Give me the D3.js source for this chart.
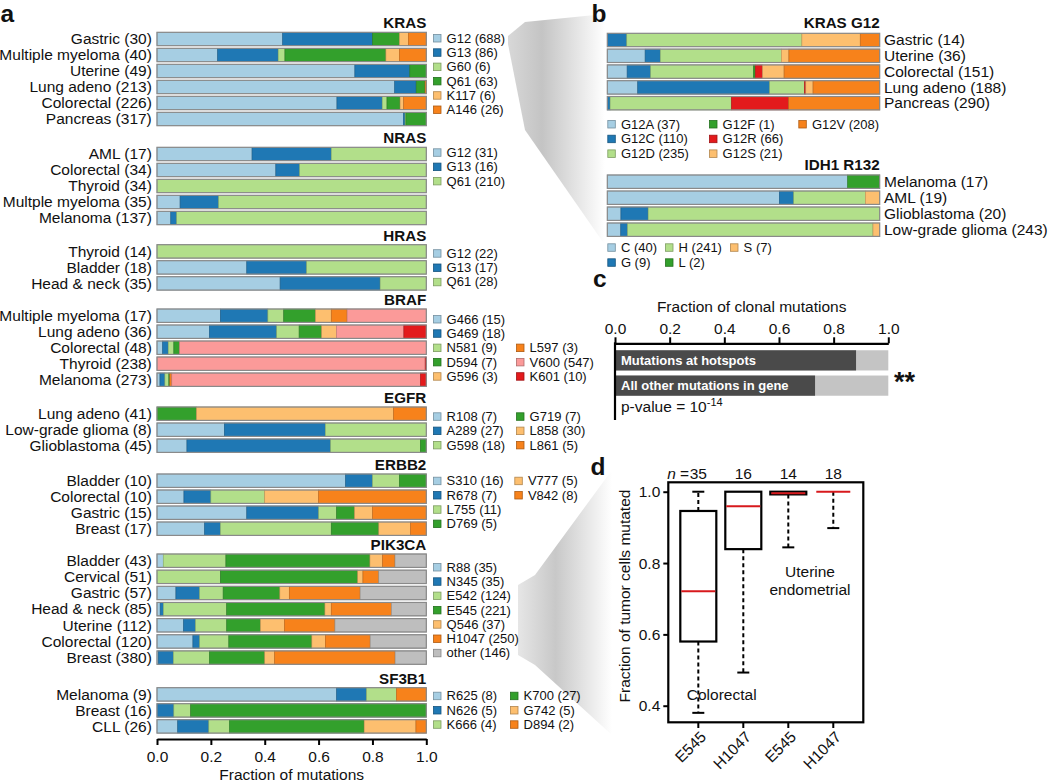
<!DOCTYPE html>
<html><head><meta charset="utf-8">
<script src="https://cdn.jsdelivr.net/npm/d3@7"></script>
<style>body{margin:0;background:#fff} svg{font-family:"Liberation Sans",Arial,Helvetica,sans-serif}</style>
</head><body><svg id="chart" width="1050" height="781"></svg>
<script>
// ---------------- DATA ----------------
const krasCats = ["Gastric (30)","Multiple myeloma (40)","Uterine (49)","Lung adeno (213)","Colorectal (226)","Pancreas (317)"];
const krasMuts = ["G12 (688)","G13 (86)","G60 (6)","Q61 (63)","K117 (6)","A146 (26)"];
const krasCounts = [[14,10,0,3,1,2],[9,9,1,15,2,4],[36,10,0,3,0,0],[188,17,0,7,0,1],[151,38,4,11,3,19],[290,2,1,24,0,0]];

const nrasCats = ["AML (17)","Colorectal (34)","Thyroid (34)","Multple myeloma (35)","Melanoma (137)"];
const nrasMuts = ["G12 (31)","G13 (16)","Q61 (210)"];
const nrasCounts = [[6,5,6],[15,3,16],[0,0,34],[3,5,27],[7,3,127]];

const hrasCats = ["Thyroid (14)","Bladder (18)","Head & neck (35)"];
const hrasMuts = ["G12 (22)","G13 (17)","Q61 (28)"];
const hrasCounts = [[0,0,14],[6,4,8],[16,13,6]];

const brafCats = ["Multiple myeloma (17)","Lung adeno (36)","Colorectal (48)","Thyroid (238)","Melanoma (273)"];
const brafMuts = ["G466 (15)","G469 (18)","N581 (9)","D594 (7)","G596 (3)","L597 (3)","V600 (547)","K601 (10)"];
const brafCounts = [[4,3,1,2,1,1,5,0],[7,9,3,3,2,0,9,3],[1,1,1,1,0,0,44,0],[0,0,0,0,0,0,237,1],[3,5,4,1,0,2,252,6]];

const egfrCats = ["Lung adeno (41)","Low-grade glioma (8)","Glioblastoma (45)"];
const egfrMuts = ["R108 (7)","A289 (27)","G598 (18)","G719 (7)","L858 (30)","L861 (5)"];
const egfrCounts = [[0,0,0,6,30,5],[2,3,3,0,0,0],[5,24,15,1,0,0]];

const erbb2Cats = ["Bladder (10)","Colorectal (10)","Gastric (15)","Breast (17)"];
const erbb2Muts = ["S310 (16)","R678 (7)","L755 (11)","D769 (5)","V777 (5)","V842 (8)"];
const erbb2Counts = [[7,1,1,1,0,0],[1,1,2,0,2,4],[5,4,1,1,1,3],[3,1,7,3,2,1]];

const pik3caCats = ["Bladder (43)","Cervical (51)","Gastric (57)","Head & neck (85)","Uterine (112)","Colorectal (120)","Breast (380)"];
const pik3caMuts = ["R88 (35)","N345 (35)","E542 (124)","E545 (221)","Q546 (37)","H1047 (250)","other (146)"];
const pik3caCounts = [[1,0,10,23,2,2,5],[0,0,12,26,1,3,9],[4,5,5,12,2,15,14],[1,1,20,31,2,19,11],[11,5,13,14,10,21,38],[16,3,13,37,6,20,25],[2,21,51,78,14,170,44]];

const sf3b1Cats = ["Melanoma (9)","Breast (16)","CLL (26)"];
const sf3b1Muts = ["R625 (8)","N626 (5)","K666 (4)","K700 (27)","G742 (5)","D894 (2)"];
const sf3b1Counts = [[6,1,1,0,0,1],[0,1,1,14,0,0],[2,3,2,13,5,1]];

const g12Cats = ["Gastric (14)","Uterine (36)","Colorectal (151)","Lung adeno (188)","Pancreas (290)"];
const g12Muts = ["G12A (37)","G12C (110)","G12D (235)","G12F (1)","G12R (66)","G12S (21)","G12V (208)"];
const g12Counts = [[0,1,9,0,0,3,1],[5,2,16,0,0,1,12],[11,13,57,1,4,12,53],[21,91,24,0,1,5,46],[0,3,129,0,61,0,97]];

const idhCats = ["Melanoma (17)","AML (19)","Glioblastoma (20)","Low-grade glioma (243)"];
const idhMuts = ["C (40)","G (9)","H (241)","L (2)","S (7)"];
const idhCounts = [[15,0,0,2,0],[12,1,5,0,1],[1,2,17,0,0],[12,6,219,0,6]];

const clonalCats = ["Mutations at hotspots","All other mutations in gene"];
const clonalFrac = [0.882, 0.732];

const boxGroups = ["cE545","cH1047","uE545","uH1047"];
const boxLabels = ["E545","H1047","E545","H1047"];
const boxN = ["35","16","14","18"];
const boxMin = [0.38,0.493,0.844,0.898];
const boxQ1 = [0.58,0.839,0.9925,1.0];
const boxMed = [0.721,0.959,0.996,1.0];
const boxQ3 = [0.946,1.0,1.0,1.0];
const boxMax = [1.0,1.0,1.0,1.0];

const fracTicks = [0,0.2,0.4,0.6,0.8,1.0];
const boxTicks = [0.4,0.6,0.8,1.0];

// ---------------- STYLE ----------------
const P = {lb:"#a6cee3", bl:"#1f78b4", lg:"#b2df8a", gr:"#33a02c", pk:"#fb9a99", rd:"#e31a1c", lo:"#fdbf6f", or:"#f7821b", gy:"#bebebe"};
const FS = 15.5, LFS = 13;

const svg = d3.select("#chart");
const defs = svg.append("defs");

// gradients for zoom wedges
const g1 = defs.append("linearGradient").attr("id","wg1").attr("x1","0").attr("x2","1").attr("y1","0").attr("y2","0");
g1.append("stop").attr("offset","0%").attr("stop-color","#d8d8d8");
g1.append("stop").attr("offset","35%").attr("stop-color","#c4c4c4");
g1.append("stop").attr("offset","100%").attr("stop-color","#ffffff");
const g2 = defs.append("linearGradient").attr("id","wg2").attr("x1","0").attr("x2","1").attr("y1","0").attr("y2","0");
g2.append("stop").attr("offset","0%").attr("stop-color","#e6e6e6");
g2.append("stop").attr("offset","40%").attr("stop-color","#c8c8c8");
g2.append("stop").attr("offset","100%").attr("stop-color","#ffffff");

svg.append("polygon").attr("points","508,36 525,22 605,14 605,245 525,130 508,44").attr("fill","url(#wg1)");
svg.append("polygon").attr("points","518,585 535,575 612,470 612,735 535,665 518,655").attr("fill","url(#wg2)");

function stackBar(g, x, yTop, h, counts, colors){
  const total = d3.sum(counts);
  const cum = d3.cumsum(counts);
  const segs = counts.map((c,i)=>({x0:(cum[i]-c)/total, x1:cum[i]/total, color:colors[i]})).filter(s=>s.x1>s.x0);
  g.selectAll(null).data(segs).join("rect")
    .attr("x",d=>x(d.x0)).attr("width",d=>x(d.x1)-x(d.x0))
    .attr("y",yTop).attr("height",h)
    .attr("fill",d=>d.color).attr("stroke",d=>d3.color(d.color).darker(0.8)).attr("stroke-width",0.6);
  g.append("rect").attr("x",x(0)).attr("y",yTop).attr("width",x(1)-x(0)).attr("height",h)
    .attr("fill","none").attr("stroke","#8a8a8a").attr("stroke-width",1.2);
}
function legendItem(g, x, y, label, color){
  g.append("rect").attr("x",x+0.5).attr("y",y+0.5).attr("width",7.5).attr("height",7.5)
    .attr("fill",color).attr("stroke",d3.color(color).darker(1)).attr("stroke-width",0.8);
  g.append("text").attr("x",x+13.6).attr("y",y+4).attr("dy","0.36em").attr("font-size",LFS).attr("fill","#111").text(label);
}

// ---------------- PANEL A ----------------
const xa = d3.scaleLinear().domain([0,1]).range([157,426.3]);
const groupsA = [
  {gene:"KRAS", cats:krasCats, muts:krasMuts, counts:krasCounts, colors:[P.lb,P.bl,P.lg,P.gr,P.lo,P.or]},
  {gene:"NRAS", cats:nrasCats, muts:nrasMuts, counts:nrasCounts, colors:[P.lb,P.bl,P.lg]},
  {gene:"HRAS", cats:hrasCats, muts:hrasMuts, counts:hrasCounts, colors:[P.lb,P.bl,P.lg]},
  {gene:"BRAF", cats:brafCats, muts:brafMuts, counts:brafCounts, colors:[P.lb,P.bl,P.lg,P.gr,P.lo,P.or,P.pk,P.rd]},
  {gene:"EGFR", cats:egfrCats, muts:egfrMuts, counts:egfrCounts, colors:[P.lb,P.bl,P.lg,P.gr,P.lo,P.or]},
  {gene:"ERBB2", cats:erbb2Cats, muts:erbb2Muts, counts:erbb2Counts, colors:[P.lb,P.bl,P.lg,P.gr,P.lo,P.or]},
  {gene:"PIK3CA", cats:pik3caCats, muts:pik3caMuts, counts:pik3caCounts, colors:[P.lb,P.bl,P.lg,P.gr,P.lo,P.or,P.gy]},
  {gene:"SF3B1", cats:sf3b1Cats, muts:sf3b1Muts, counts:sf3b1Counts, colors:[P.lb,P.bl,P.lg,P.gr,P.lo,P.or]}
];
// layout: group start tops, row pitch, legend layout
const groupTop = [32.3,147.3,244.7,309,407,474,554,687.7];
const rowPitch = [16,16,16,16,16,16,16.15,16];
const legendDy = [1.7,1,4.5,6,5.3,2.7,9,4];
const legendCol1 = [6,3,3,5,3,4,7,3];
const legendCol2Row = [0,0,0,2,0,0,0,0];
const legendCol2X = [0,0,0,516,516,514.3,0,510];
const barH = 13.4, LP = 14.3;

const ga = svg.append("g");
groupsA.forEach((grp,gi)=>{
  const y = d3.scaleLinear().domain([0,1]).range([groupTop[gi], groupTop[gi]+rowPitch[gi]]);
  ga.append("text").attr("x",xa(1)).attr("y",y(0)-4.2).attr("text-anchor","end")
    .attr("font-size",15.2).attr("font-weight","bold").attr("fill","#111").text(grp.gene);
  grp.cats.forEach((c,i)=>{
    ga.append("text").attr("x",151.8).attr("y",y(i)+barH/2).attr("dy","0.34em").attr("text-anchor","end")
      .attr("font-size",FS).attr("fill","#111").text(c);
    stackBar(ga, xa, y(i), barH, grp.counts[i], grp.colors);
  });
  const ly = groupTop[gi] + legendDy[gi];
  grp.muts.forEach((m,i)=>{
    if(i < legendCol1[gi]) legendItem(ga, 433, ly + i*LP, m, grp.colors[i]);
    else legendItem(ga, legendCol2X[gi], ly + (i-legendCol1[gi]+legendCol2Row[gi])*LP, m, grp.colors[i]);
  });
});
const axA = ga.append("g").attr("transform","translate(0,739)")
  .call(d3.axisBottom(xa).tickValues(fracTicks).tickFormat(d3.format(".1f")).tickSize(6).tickSizeOuter(0));
axA.select(".domain").attr("stroke-width",2.2);
axA.selectAll(".tick line").attr("stroke-width",2);
axA.selectAll("text").attr("font-size",FS).attr("font-family","Liberation Sans, Arial, sans-serif").attr("fill","#111").attr("y",11.5);
ga.append("text").attr("x",(xa(0)+xa(1))/2).attr("y",779.5).attr("text-anchor","middle").attr("font-size",FS).attr("fill","#111").text("Fraction of mutations");

// panel letters
const letter = (t,x,y)=>svg.append("text").attr("x",x).attr("y",y).attr("font-size",24.5).attr("font-weight","bold").attr("fill","#111").text(t);
letter("a",0.5,22.3); letter("b",591.5,22.3); letter("c",593,287); letter("d",590.5,475);

// ---------------- PANEL B ----------------
const xb = d3.scaleLinear().domain([0,1]).range([607.3,879.7]);
const gb = svg.append("g");
function panelB(title, cats, counts, colors, top, pitch, muts, legX, legY, legRows, legPitch){
  const y = d3.scaleLinear().domain([0,1]).range([top, top+pitch]);
  gb.append("text").attr("x",xb(1)).attr("y",y(0)-5).attr("text-anchor","end")
    .attr("font-size",15.2).attr("font-weight","bold").attr("fill","#111").text(title);
  cats.forEach((c,i)=>{
    stackBar(gb, xb, y(i), barH, counts[i], colors);
    gb.append("text").attr("x",884).attr("y",y(i)+barH/2).attr("dy","0.34em").attr("font-size",FS).attr("fill","#111").text(c);
  });
  muts.forEach((m,i)=>{
    const col = Math.floor(i/legRows), row = i%legRows;
    legendItem(gb, legX[col], legY + row*legPitch, m, colors[i]);
  });
}
panelB("KRAS G12", g12Cats, g12Counts, [P.lb,P.bl,P.lg,P.gr,P.rd,P.lo,P.or], 33.3, 15.8, g12Muts, [607.3,709,798.3], 120, 3, 14.7);
panelB("IDH1 R132", idhCats, idhCounts, [P.lb,P.bl,P.lg,P.gr,P.lo], 175, 16, idhMuts, [607.3,665,730], 243.3, 2, 15);

// ---------------- PANEL C ----------------
const xc = d3.scaleLinear().domain([0,1]).range([615,888.3]);
const gc = svg.append("g");
gc.append("text").attr("x",(xc(0)+xc(1))/2).attr("y",311.5).attr("text-anchor","middle").attr("font-size",FS).attr("fill","#111").text("Fraction of clonal mutations");
const yc = d3.scaleBand().domain(clonalCats).range([349.5,396.5]).paddingInner(0.2).paddingOuter(0.03);
clonalCats.forEach((c,i)=>{
  gc.append("rect").attr("x",xc(0)).attr("y",yc(c)).attr("width",xc(1)-xc(0)).attr("height",yc.bandwidth()).attr("fill","#c4c4c4");
  gc.append("rect").attr("x",xc(0)).attr("y",yc(c)).attr("width",xc(clonalFrac[i])-xc(0)).attr("height",yc.bandwidth()).attr("fill","#4a4a4a");
  gc.append("text").attr("x",xc(0)+6).attr("y",yc(c)+yc.bandwidth()/2).attr("dy","0.36em").attr("font-size",13).attr("font-weight","bold").attr("fill","#fff").text(c);
});
const axC = gc.append("g").attr("transform","translate(0,343.3)")
  .call(d3.axisTop(xc).tickValues(fracTicks).tickFormat(d3.format(".1f")).tickSize(6).tickSizeOuter(0));
axC.select(".domain").attr("stroke-width",2.2);
axC.selectAll(".tick line").attr("stroke-width",2);
axC.selectAll("text").attr("font-size",FS).attr("font-family","Liberation Sans, Arial, sans-serif").attr("fill","#111");
gc.append("line").attr("x1",xc(0)).attr("x2",xc(0)).attr("y1",342.3).attr("y2",420).attr("stroke","#000").attr("stroke-width",2.2);
const pv = gc.append("text").attr("x",621).attr("y",411.5).attr("font-size",FS).attr("fill","#111");
pv.append("tspan").text("p-value = 10");
pv.append("tspan").attr("dy",-6).attr("font-size",11).text("-14");
gc.append("text").attr("x",894).attr("y",391).attr("font-size",27).attr("font-weight","bold").attr("fill","#111").text("**");

// ---------------- PANEL D ----------------
const gd = svg.append("g");
const yd = d3.scaleLinear().domain([0.3535,1.0264]).range([722.3,482.3]);
const xd = d3.scalePoint().domain(boxGroups).range([668.3,863.3]).padding(0.667);
const bw = 36, cw = 12;
boxGroups.forEach((k,i)=>{
  const cx = xd(k);
  if(boxMax[i] > boxQ3[i]){
    gd.append("line").attr("x1",cx).attr("x2",cx).attr("y1",yd(boxQ3[i])).attr("y2",yd(boxMax[i])).attr("stroke","#000").attr("stroke-width",2).attr("stroke-dasharray","4,3");
    gd.append("line").attr("x1",cx-cw/2).attr("x2",cx+cw/2).attr("y1",yd(boxMax[i])).attr("y2",yd(boxMax[i])).attr("stroke","#000").attr("stroke-width",2);
  }
  if(boxMin[i] < boxQ1[i]){
    gd.append("line").attr("x1",cx).attr("x2",cx).attr("y1",yd(boxQ1[i])).attr("y2",yd(boxMin[i])).attr("stroke","#000").attr("stroke-width",2).attr("stroke-dasharray","4,3");
    gd.append("line").attr("x1",cx-cw/2).attr("x2",cx+cw/2).attr("y1",yd(boxMin[i])).attr("y2",yd(boxMin[i])).attr("stroke","#000").attr("stroke-width",2);
  }
  if(boxQ3[i] > boxQ1[i]){
    gd.append("rect").attr("x",cx-bw/2).attr("y",yd(boxQ3[i])).attr("width",bw).attr("height",yd(boxQ1[i])-yd(boxQ3[i]))
      .attr("fill","#fff").attr("stroke","#000").attr("stroke-width",2.2);
  }
  gd.append("line").attr("x1",cx-bw/2+1).attr("x2",cx+bw/2-1).attr("y1",yd(boxMed[i])).attr("y2",yd(boxMed[i])).attr("stroke","#d7191c").attr("stroke-width",2);
  gd.append("text").attr("x",cx).attr("y",478.5).attr("text-anchor","middle").attr("font-size",FS).attr("fill","#111").text(boxN[i]);
  gd.append("line").attr("x1",cx).attr("x2",cx).attr("y1",722.3).attr("y2",728).attr("stroke","#000").attr("stroke-width",2);
  gd.append("text").attr("transform",`translate(${cx+5},${734}) rotate(-45)`).attr("text-anchor","end").attr("dy","0.35em")
    .attr("font-size",FS).attr("fill","#111").text(boxLabels[i]);
});
gd.append("text").attr("x",xd(boxGroups[0])-9.2).attr("y",478.5).attr("text-anchor","end").attr("font-size",FS).attr("fill","#111")
  .call(t=>{t.append("tspan").attr("font-style","italic").text("n"); t.append("tspan").text(" =");});
gd.append("rect").attr("x",668.3).attr("y",482.3).attr("width",195).attr("height",240).attr("fill","none").attr("stroke","#000").attr("stroke-width",2.2);
const axD = gd.append("g").attr("transform","translate(668.3,0)")
  .call(d3.axisLeft(yd).tickValues(boxTicks).tickFormat(d3.format(".1f")).tickSize(5).tickSizeOuter(0));
axD.select(".domain").remove();
axD.selectAll(".tick line").attr("stroke-width",2);
axD.selectAll("text").attr("font-size",FS).attr("font-family","Liberation Sans, Arial, sans-serif").attr("fill","#111").attr("x",-8);
gd.append("text").attr("transform","translate(630,596) rotate(-90)").attr("text-anchor","middle").attr("font-size",FS).attr("fill","#111").text("Fraction of tumor cells mutated");
gd.append("text").attr("x",721.7).attr("y",699.5).attr("text-anchor","middle").attr("font-size",FS).attr("fill","#111").text("Colorectal");
gd.append("text").attr("x",810).attr("y",576.5).attr("text-anchor","middle").attr("font-size",FS).attr("fill","#111").text("Uterine");
gd.append("text").attr("x",810).attr("y",595).attr("text-anchor","middle").attr("font-size",FS).attr("fill","#111").text("endometrial");
</script></body></html>
